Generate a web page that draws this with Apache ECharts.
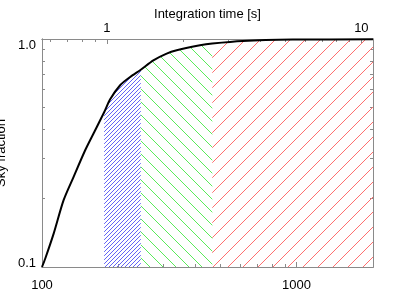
<!DOCTYPE html>
<html><head><meta charset="utf-8">
<script src="https://cdn.jsdelivr.net/npm/echarts@6/dist/echarts.min.js"></script>
<style>html,body{margin:0;padding:0;background:#fff}#c{width:415px;height:297px}</style>
</head><body><div id="c"></div>
<script>
// cumulative sky fraction vs. x (bottom axis)
const curveX = [100, 103, 111.2, 121.5, 133, 147.8, 159.6, 175.5, 185.3, 202.8, 222, 244.5, 274, 309, 338.4, 417.7, 467, 615, 967, 2000];
const curveY = [0.100, 0.109, 0.1405, 0.196, 0.248, 0.325, 0.386, 0.477, 0.544, 0.627, 0.681, 0.733, 0.806, 0.863, 0.892, 0.938, 0.955, 0.980, 0.994, 0.997];
// hatched bands: [start, end] on the bottom axis
const bandEdges = [175.5, 244.5, 467, 2000];
const bandNames = ['blue', 'green', 'red'];
// tick values
const bottomMajor = [100, 1000];
const bottomMinor = [200, 300, 400, 500, 600, 700, 800, 900, 2000];
const topMajor = [1, 10];
const topMinor = [0.6, 0.7, 0.8, 0.9, 2, 3, 4, 5, 6, 7, 8, 9];
const yMajor = [0.1, 1];
const yMinor = [0.2, 0.3, 0.4, 0.5, 0.6, 0.7, 0.8, 0.9];
const unitsPerSecond = 180; // top axis = bottom value / 180
const xMin = 100, xMax = 2000, yMin = 0.1, yMax = 1;

// crisp one-pixel 45 degree hatch tile
function hatch(color, step, dir) {
  const c = document.createElement('canvas');
  c.width = step; c.height = step;
  const g = c.getContext('2d');
  g.fillStyle = color;
  for (let i = 0; i < step; i++) {
    g.fillRect(i, dir > 0 ? step - 1 - i : i, 1, 1);
  }
  return c;
}
const bandStyles = [
  hatch('rgb(100,100,245)', 4, 1),
  hatch('rgb(90,235,90)', 13, -1),
  hatch('rgb(255,110,110)', 15, 1)
];

const axisGray = '#8a8a8a';
const font = 'Liberation Sans';
function xAx(pos, min, max, ticks, len, labels, extra) {
  return Object.assign({
    type: 'log', logBase: 10, gridIndex: 0, position: pos, min: min, max: max,
    axisLine: { show: true, lineStyle: { color: axisGray, width: 1 } },
    axisTick: { show: true, inside: true, length: len, customValues: ticks, lineStyle: { color: axisGray } },
    axisLabel: labels ? { show: true, customValues: labels, color: '#000', fontFamily: font, fontSize: 13,
      margin: pos === 'bottom' ? 12 : 4, formatter: v => String(Math.round(v)) } : { show: false },
    splitLine: { show: false }, minorTick: { show: false }
  }, extra || {});
}
function yAx(pos, ticks, len, labels, extra) {
  return Object.assign({
    type: 'log', logBase: 10, gridIndex: 0, position: pos, min: yMin, max: yMax,
    axisLine: { show: true, lineStyle: { color: axisGray, width: 1 } },
    axisTick: { show: true, inside: true, length: len, customValues: ticks, lineStyle: { color: axisGray } },
    axisLabel: labels ? { show: true, customValues: labels, color: '#000', fontFamily: font, fontSize: 13, margin: 6,
      formatter: v => v >= 0.99 ? '{hi|1.0}' : '{lo|' + v.toFixed(1) + '}',
      rich: { hi: { padding: [12, 0, 0, 0], fontSize: 13, fontFamily: font, color: '#000' },
              lo: { padding: [0, 0, 8, 0], fontSize: 13, fontFamily: font, color: '#000' } } } : { show: false },
    splitLine: { show: false }, minorTick: { show: false }
  }, extra || {});
}

const curve = curveX.map((x, i) => [x, curveY[i]]);
const bandSeries = bandNames.map((n, b) => ({
  type: 'line', name: n, xAxisIndex: 0, yAxisIndex: 0,
  data: curve.filter(p => p[0] >= bandEdges[b] && p[0] <= bandEdges[b + 1]),
  showSymbol: false, symbol: 'none', smooth: 0.25,
  lineStyle: { width: 0, opacity: 0 },
  areaStyle: { origin: 'start', color: { image: bandStyles[b], repeat: 'repeat' }, opacity: 1 },
  z: 2, silent: true, animation: false
}));

const chart = echarts.init(document.getElementById('c'), null, { renderer: 'canvas' });
chart.setOption({
  animation: false,
  backgroundColor: '#fff',
  aria: { enabled: false, decal: { show: false } },
  grid: { left: 42, right: 42, top: 39, bottom: 30, containLabel: false, outerBoundsMode: 'none' },
  xAxis: [
    xAx('bottom', xMin, xMax, bottomMajor, 5, bottomMajor),
    xAx('bottom', xMin, xMax, bottomMinor, 3, null),
    xAx('top', xMin / unitsPerSecond, xMax / unitsPerSecond, topMajor, 5, topMajor, {
      name: 'Integration time [s]', nameLocation: 'middle', nameGap: 18, nameMoveOverlap: false,
      nameTextStyle: { color: '#000', fontFamily: font, fontSize: 13 } }),
    xAx('top', xMin / unitsPerSecond, xMax / unitsPerSecond, topMinor, 3, null)
  ],
  yAxis: [
    yAx('left', yMajor, 5, yMajor, {
      name: 'Sky fraction', nameLocation: 'middle', nameGap: 34, nameMoveOverlap: false,
      nameTextStyle: { color: '#000', fontFamily: font, fontSize: 13 } }),
    yAx('left', yMinor, 3, null),
    yAx('right', yMajor, 5, null),
    yAx('right', yMinor, 3, null)
  ],
  series: bandSeries.concat([{
    type: 'line', name: 'sky fraction', xAxisIndex: 0, yAxisIndex: 0,
    data: curve, showSymbol: false, symbol: 'none', smooth: 0.25,
    lineStyle: { color: '#000', width: 2 }, z: 5, animation: false
  }])
});
</script></body></html>
